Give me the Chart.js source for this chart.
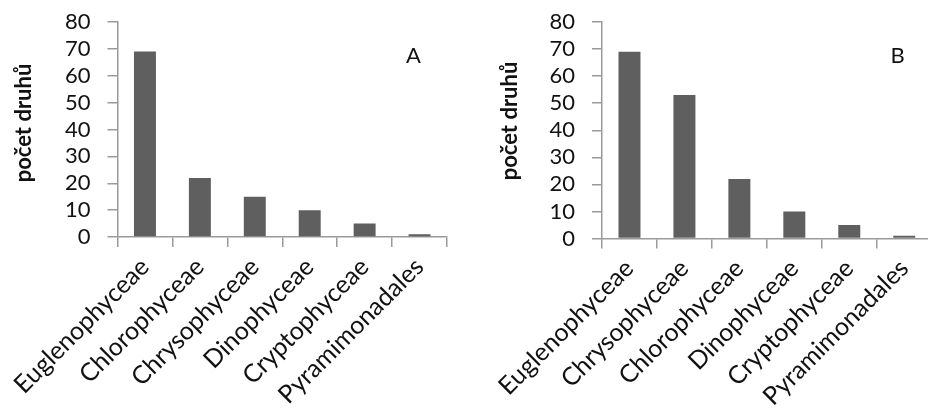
<!DOCTYPE html>
<html>
<head>
<meta charset="utf-8">
<script src="https://cdn.jsdelivr.net/npm/chart.js@4.4.0/dist/chart.umd.min.js"></script>
<style>
  html, body { margin: 0; padding: 0; background: #fff; overflow: hidden; }
  #wrap { position: relative; width: 928px; height: 409px; overflow: hidden; }
  #wa { position: absolute; left: 0; top: 0; width: 464px; height: 409px; }
  #wb { position: absolute; left: 464px; top: 0; width: 480px; height: 409px; }
  canvas { display: block; }
</style>
</head>
<body>
<div id="wrap">
  <div id="wa"><canvas id="ca" width="464" height="409"></canvas></div>
  <div id="wb"><canvas id="cb" width="480" height="409"></canvas></div>
</div>
<script>
// Species counts per algal group, two sites
const categoriesA = ['Euglenophyceae', 'Chlorophyceae', 'Chrysophyceae', 'Dinophyceae', 'Cryptophyceae', 'Pyramimonadales'];
const valuesA = [69, 22, 15, 10, 5, 1];
const categoriesB = ['Euglenophyceae', 'Chrysophyceae', 'Chlorophyceae', 'Dinophyceae', 'Cryptophyceae', 'Pyramimonadales'];
const valuesB = [69, 53, 22, 10, 5, 1];
const yTicks = [0, 10, 20, 30, 40, 50, 60, 70, 80];
const yTitle = 'počet druhů';
const panelLetters = ['A', 'B'];

const FONT = 'Lato';
const TEXT = '#111';
const AXIS = '#9a9a9a';
const BAR = '#5f5f5f';

// Panel letter and rotated y-axis caption
const panelText = {
  id: 'panelText',
  afterDraw(chart, args, o) {
    const ctx = chart.ctx;
    ctx.save();
    ctx.fillStyle = TEXT;
    ctx.textAlign = 'center';
    ctx.textBaseline = 'alphabetic';
    ctx.font = `22px ${FONT}`;
    ctx.fillText(o.letter, o.letterX, o.letterY);
    ctx.translate(o.titleX, o.titleY);
    ctx.rotate(-Math.PI / 2);
    ctx.textBaseline = 'middle';
    ctx.font = `bold 22px ${FONT}`;
    ctx.fillText(yTitle, 0, 0);
    ctx.restore();
  }
};

function makeChart(id, labels, values, g) {
  return new Chart(document.getElementById(id), {
    type: 'bar',
    data: {
      labels: labels,
      datasets: [{
        data: values,
        backgroundColor: BAR,
        borderWidth: 0,
        barPercentage: 0.4,
        categoryPercentage: 1.0
      }]
    },
    options: {
      responsive: false,
      animation: false,
      devicePixelRatio: 1,
      layout: { padding: { top: 22, right: g.padRight, left: 0, bottom: 0 } },
      plugins: {
        legend: { display: false },
        tooltip: { enabled: false },
        panelText: g.text
      },
      scales: {
        x: {
          offset: true,
          grid: { offset: true, drawOnChartArea: false, tickLength: 10, color: AXIS, lineWidth: 1.5 },
          border: { color: AXIS, width: 1.5 },
          ticks: {
            autoSkip: false, maxRotation: 45, minRotation: 45,
            color: TEXT, font: { family: FONT, size: 25 }, padding: 5
          },
          afterFit: s => { s.height = g.xHeight; s.paddingLeft = 0; s.paddingRight = 0; s.paddingTop = 0; s.paddingBottom = 0; }
        },
        y: {
          min: 0, max: 80,
          afterBuildTicks: s => { s.ticks = yTicks.map(v => ({ value: v })); },
          grid: { drawOnChartArea: false, tickLength: 10, color: AXIS, lineWidth: 1.5 },
          border: { color: AXIS, width: 1.5 },
          ticks: { autoSkip: false, color: TEXT, font: { family: FONT, size: 22 }, padding: 17 },
          afterFit: s => { s.width = g.yWidth; s.paddingTop = 0; s.paddingBottom = 0; }
        }
      }
    },
    plugins: [panelText]
  });
}

makeChart('ca', categoriesA, valuesA, {
  padRight: 17, xHeight: 172, yWidth: 117.5,
  text: { letter: panelLetters[0], letterX: 413.5, letterY: 63, titleX: 24, titleY: 123 }
});
makeChart('cb', categoriesB, valuesB, {
  padRight: 12.3, xHeight: 170.5, yWidth: 138,
  text: { letter: panelLetters[1], letterX: 433.5, letterY: 63, titleX: 46, titleY: 121 }
});
</script>
</body>
</html>
